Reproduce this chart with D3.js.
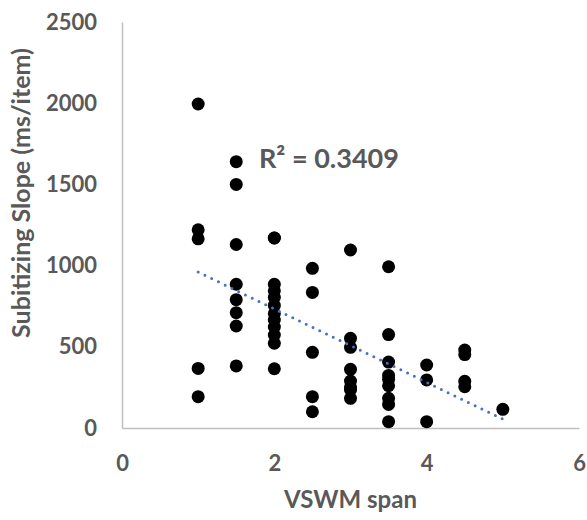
<!DOCTYPE html>
<html>
<head>
<meta charset="utf-8">
<script src="https://cdn.jsdelivr.net/npm/d3@7"></script>
<style>
  body { margin: 0; background: #fff; }
  svg text { font-family: Lato, "Open Sans", sans-serif; font-weight: bold; fill: #595959; }
</style>
</head>
<body>
<svg id="chart" width="587" height="520"></svg>
<script>
// VSWM span per participant
const spanValues = [
  1, 1, 1, 1, 1,
  1.5, 1.5, 1.5, 1.5, 1.5, 1.5, 1.5, 1.5,
  2, 2, 2, 2, 2, 2, 2, 2, 2, 2, 2, 2,
  2.5, 2.5, 2.5, 2.5, 2.5,
  3, 3, 3, 3, 3, 3, 3, 3,
  3.5, 3.5, 3.5, 3.5, 3.5, 3.5, 3.5, 3.5, 3.5,
  4, 4, 4,
  4.5, 4.5, 4.5, 4.5,
  5
];
// subitizing slope (ms/item)
const slopeValues = [
  1995, 1220, 1165, 367, 193,
  1640, 1500, 1130, 885, 790, 710, 628, 382,
  1170, 885, 845, 805, 755, 705, 665, 622, 572, 522, 365, 1170,
  983, 835, 466, 193, 100,
  1096, 552, 497, 361, 289, 250, 234, 183,
  993, 575, 406, 324, 300, 260, 183, 145, 39,
  388, 296, 39,
  480, 452, 288, 254,
  115
];
// excel linear trendline
const trendX = [1, 5];
const trendY = [960, 55];
const xTicks = [0, 2, 4, 6];
const yTicks = [0, 500, 1000, 1500, 2000, 2500];
const rSquaredLabel = "R² = 0.3409";

const svg = d3.select("#chart");

const margin = { top: 22, right: 8, bottom: 92, left: 122 },
  innerWidth = 587 - margin.left - margin.right,
  innerHeight = 520 - margin.top - margin.bottom;

const xScale = d3.scaleLinear().domain([0, 6]).range([0, innerWidth]);
const yScale = d3.scaleLinear().domain([0, 2500]).range([innerHeight, 0]);

const g = svg.append("g").attr("transform", `translate(${margin.left},${margin.top})`);

// axes
const gx = g.append("g").attr("transform", `translate(0,${innerHeight})`)
  .call(d3.axisBottom(xScale).tickValues(xTicks).tickFormat((d) => d).tickSize(0).tickPadding(27));
const gy = g.append("g")
  .call(d3.axisLeft(yScale).tickValues(yTicks).tickFormat((d) => d).tickSize(0).tickPadding(25));

[gx, gy].forEach((a) => {
  a.select(".domain").attr("stroke", "#bfbfbf").attr("stroke-width", 1.5);
  a.selectAll("text").style("font-size", "22px").attr("fill", "#595959");
});

// points
const data = spanValues.map((s, i) => ({ span: s, slope: slopeValues[i] }));
g.selectAll("circle")
  .data(data)
  .join("circle")
  .attr("cx", (d) => xScale(d.span))
  .attr("cy", (d) => yScale(d.slope))
  .attr("r", 6.5)
  .attr("fill", "#000");

// trendline
const line = d3.line().x((d) => xScale(d[0])).y((d) => yScale(d[1]));
g.append("path")
  .datum(trendX.map((x, i) => [x, trendY[i]]))
  .attr("d", line)
  .attr("fill", "none")
  .attr("stroke", "#4472c4")
  .attr("stroke-width", 3)
  .attr("stroke-linecap", "round")
  .attr("stroke-dasharray", "0 7.5");

// r squared label
svg.append("text")
  .attr("x", 259)
  .attr("y", 168)
  .style("font-size", "27px")
  .text(rSquaredLabel);

// axis titles
svg.append("text")
  .attr("x", margin.left + innerWidth / 2)
  .attr("y", 508)
  .attr("text-anchor", "middle")
  .style("font-size", "24px")
  .text("VSWM span");

svg.append("text")
  .attr("transform", "translate(30,193) rotate(-90)")
  .attr("text-anchor", "middle")
  .style("font-size", "25px")
  .text("Subitizing Slope (ms/item)");
</script>
</body>
</html>
